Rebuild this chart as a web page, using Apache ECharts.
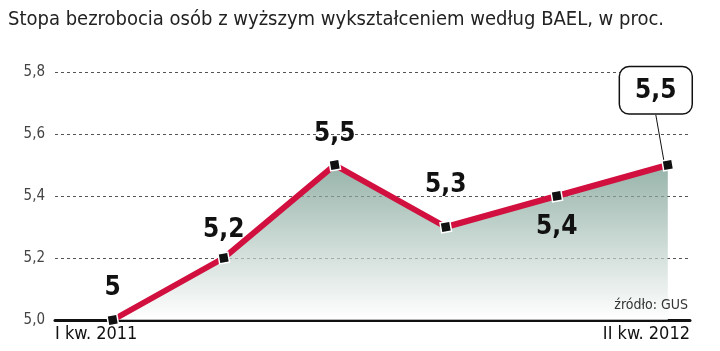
<!DOCTYPE html>
<html>
<head>
<meta charset="utf-8">
<script src="https://cdn.jsdelivr.net/npm/echarts@6/dist/echarts.min.js"></script>
<style>
  html, body { margin: 0; padding: 0; background: #fff; }
  #chart { width: 720px; height: 351px; }
</style>
</head>
<body>
<div id="chart"></div>
<script>
// dane z wykresu
const quarters = [0, 1, 2, 3, 4, 5];
const rates = [5.0, 5.2, 5.5, 5.3, 5.4, 5.5];
const rateLabels = ['5', '5,2', '5,5', '5,3', '5,4', '5,5'];
const endLabels = ['I kw. 2011', 'II kw. 2012'];
const yTicks = [5.0, 5.2, 5.4, 5.6, 5.8];

const condFont = '"DejaVu Sans Condensed", sans-serif';

// where each label sits relative to its point
const labelPos = [
  { position: 'top', distance: 12, offset: [0, 0] },
  { position: 'top', distance: 8, offset: [-22, 0] },
  { position: 'top', distance: 11, offset: [-16, 0] },
  { position: 'top', distance: 22, offset: [5, 0] },
  { position: 'bottom', distance: 12, offset: [16, 0] },
  null
];

const seriesData = quarters.map((q, i) => {
  let item = { value: [q, rates[i]] };
  if (labelPos[i]) {
    item.label = labelPos[i];
  } else {
    item.label = {
      position: 'top',
      distance: 0,
      backgroundColor: '#fff',
      borderColor: '#111',
      borderWidth: 1.5,
      borderRadius: 9,
      padding: [11, 15, 9, 15]
    };
    item.labelLine = { show: true, lineStyle: { color: '#111', width: 1 } };
  }
  return item;
});

const chart = echarts.init(document.getElementById('chart'));
chart.setOption({
  animation: false,
  backgroundColor: '#fff',
  title: {
    text: 'Stopa bezrobocia osób z wyższym wykształceniem według BAEL, w proc.',
    left: 3,
    top: 5,
    textStyle: {
      fontFamily: condFont,
      fontWeight: 'normal',
      fontSize: 20,
      color: '#222'
    }
  },
  grid: { left: 55, right: 30, top: 72, bottom: 31 },
  xAxis: {
    type: 'value',
    min: -0.52,
    max: 5.2,
    axisLine: { show: true, lineStyle: { color: '#111', width: 3 } },
    axisTick: { show: false },
    splitLine: { show: false },
    axisLabel: {
      customValues: [-0.52, 5.2],
      margin: 5,
      fontFamily: condFont,
      fontSize: 18,
      color: '#111',
      formatter: v => (v < 0 ? endLabels[0] : endLabels[1]),
      alignMinLabel: 'left',
      alignMaxLabel: 'right'
    }
  },
  yAxis: {
    type: 'value',
    min: 5.0,
    max: 5.8,
    interval: 0.2,
    axisLine: { show: false },
    axisTick: { show: false },
    splitLine: { lineStyle: { color: '#555', type: [3, 3], width: 1 } },
    axisLabel: {
      margin: 10,
      fontFamily: condFont,
      fontSize: 15,
      color: '#444',
      formatter: v => yTicks.includes(+v.toFixed(1)) ? v.toFixed(1).replace('.', ',') : ''
    }
  },
  graphic: [{
    type: 'text',
    right: 32,
    top: 298,
    z: 100,
    style: {
      text: 'źródło: GUS',
      fontFamily: condFont,
      fontSize: 14,
      fill: '#333'
    }
  }],
  series: [{
    type: 'line',
    data: seriesData,
    symbol: 'rect',
    symbolSize: 10,
    symbolRotate: 10,
    itemStyle: { color: '#111', borderColor: '#fff', borderWidth: 1.5 },
    lineStyle: { color: '#d2103f', width: 6 },
    areaStyle: {
      origin: 'start',
      color: new echarts.graphic.LinearGradient(0, 0, 0, 1, [
        { offset: 0, color: '#6b9386' },
        { offset: 1, color: '#ffffff' }
      ])
    },
    label: {
      show: true,
      formatter: p => rateLabels[p.dataIndex],
      fontFamily: condFont,
      fontWeight: 'bold',
      fontSize: 26,
      color: '#111'
    },
    labelLayout: p => (p.dataIndex === 5 ? { dx: -12, dy: -45 } : null),
    labelLine: { show: false },
    z: 3
  }]
});
</script>
</body>
</html>
